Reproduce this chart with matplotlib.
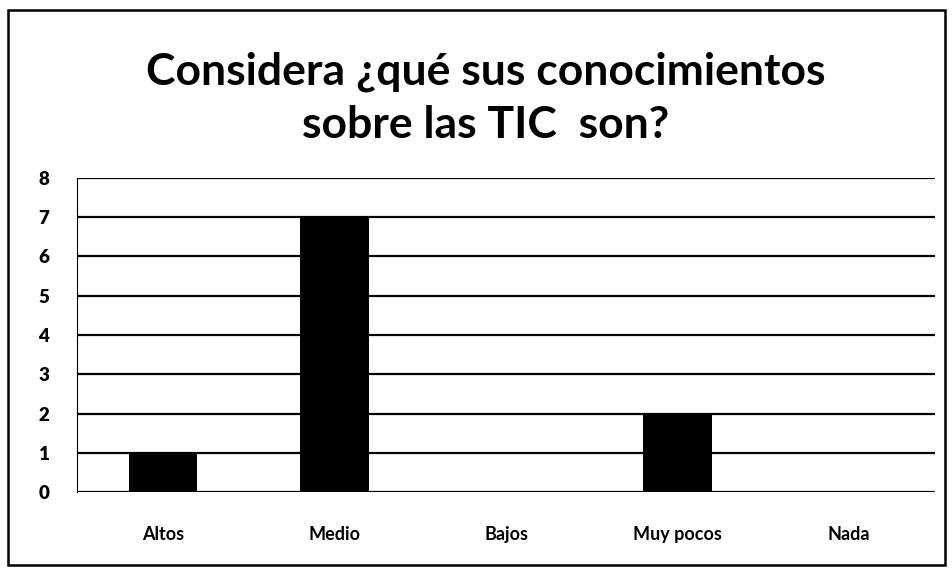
import matplotlib.pyplot as plt
from matplotlib.patches import Rectangle

categorias = ['Altos', 'Medio', 'Bajos', 'Muy pocos', 'Nada']
valores = [1, 7, 0, 2, 0]
titulo = 'Considera ¿qué sus conocimientos\nsobre las TIC  son?'

plt.rcParams['font.family'] = ['Lato', 'DejaVu Sans']

fig = plt.figure(figsize=(9.53, 5.77), dpi=100)
ax = fig.add_axes([0.081, 0.147, 0.900, 0.545])

x = range(len(categorias))
ax.bar(x, valores, width=0.4, color='black', zorder=3)

ax.set_ylim(0, 8)
ax.set_xlim(-0.5, len(categorias) - 0.5)
ax.set_yticks(range(0, 9))
ax.set_xticks(list(x))
ax.set_xticklabels(categorias, fontsize=13, fontweight='bold')
for lab in ax.get_yticklabels():
    lab.set_fontsize(13.5)
    lab.set_fontweight('heavy')
ax.tick_params(axis='both', length=0)
ax.tick_params(axis='y', pad=20)
ax.tick_params(axis='x', pad=24)

ax.yaxis.grid(True, color='black', linewidth=1.6, zorder=0)
ax.set_axisbelow(True)
for s in ['top', 'right', 'bottom']:
    ax.spines[s].set_visible(False)
ax.spines['left'].set_linewidth(0.8)

fig.text(0.51, 0.83, titulo, ha='center', va='center', fontsize=32,
         fontweight='bold', linespacing=1.4)

# marco del grafico
fig.add_artist(Rectangle((0.0084, 0.021), 0.983, 0.962, transform=fig.transFigure,
                         fill=False, edgecolor='black', linewidth=1.8))

fig.savefig('out.png', dpi=100)
